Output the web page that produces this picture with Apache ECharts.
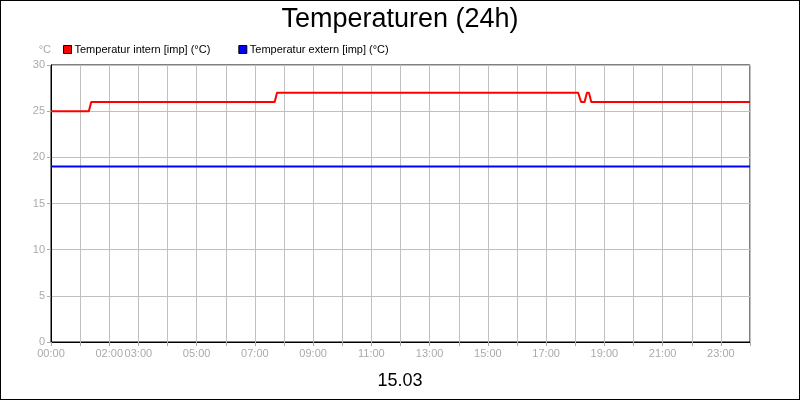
<!DOCTYPE html><html><head><meta charset="utf-8"><script src="https://cdn.jsdelivr.net/npm/echarts@6/dist/echarts.min.js"></script>
<style>body{margin:0}#c{width:798px;height:398px;border:1px solid #000}</style></head><body><div id="c"></div><script>
const internX=[0,1.3,1.38,7.68,7.76,18.1,18.2,18.32,18.4,18.47,18.55,24];
const internY=[25,25,26,26,27,27,26,26,27,27,26,26];
const externX=[0,24];
const externY=[19,19];
const shownLabels=[0,2,3,5,7,9,11,13,15,17,19,21,23];
const ch=echarts.init(document.getElementById('c'));
const pad=h=>(h<10?'0':'')+h+':00';
ch.setOption({animation:false,
title:[{text:'Temperaturen (24h)',left:'center',top:0,textStyle:{fontFamily:'Liberation Sans',fontWeight:'normal',fontSize:27,color:'#000'}},
{text:'15.03',left:'center',top:366,textStyle:{fontFamily:'Liberation Sans',fontWeight:'normal',fontSize:18,color:'#000'}}],
legend:{left:57,top:38,itemWidth:8,itemHeight:8,itemGap:28,icon:'rect',textStyle:{fontFamily:'Liberation Sans',fontSize:11,color:'#000',padding:[0,0,0,-2]},
data:[{name:'Temperatur intern [imp] (°C)',itemStyle:{borderColor:'#000',borderWidth:1}},{name:'Temperatur extern [imp] (°C)',itemStyle:{borderColor:'#000',borderWidth:1}}]},
grid:{left:50,right:49,top:64,bottom:57,show:true,borderColor:'#000',borderWidth:1},
xAxis:{type:'value',min:0,max:24,interval:1,axisLine:{lineStyle:{color:'#000'}},axisTick:{lineStyle:{color:'#aaa'},length:4},
splitLine:{lineStyle:{color:'#c0c0c0'}},
axisLabel:{color:'#aaa',fontFamily:'Liberation Sans',fontSize:11,margin:6,formatter:v=>shownLabels.includes(v)?pad(v):''}},
yAxis:{type:'value',min:0,max:30,interval:5,name:'°C',nameGap:10,nameTextStyle:{color:'#aaa',fontSize:11,align:'right',fontFamily:'Liberation Sans'},
axisLine:{show:true,lineStyle:{color:'#000'}},axisTick:{show:true,lineStyle:{color:'#aaa'},length:4},
splitLine:{lineStyle:{color:'#c0c0c0'}},axisLabel:{color:'#aaa',fontSize:11,fontFamily:'Liberation Sans',margin:6}},
series:[{name:'Temperatur intern [imp] (°C)',type:'line',showSymbol:false,color:'#ff0000',lineStyle:{width:2},data:internX.map((x,i)=>[x,internY[i]])},
{name:'Temperatur extern [imp] (°C)',type:'line',showSymbol:false,color:'#0000ff',lineStyle:{width:2},data:externX.map((x,i)=>[x,externY[i]])}]
});
</script></body></html>
